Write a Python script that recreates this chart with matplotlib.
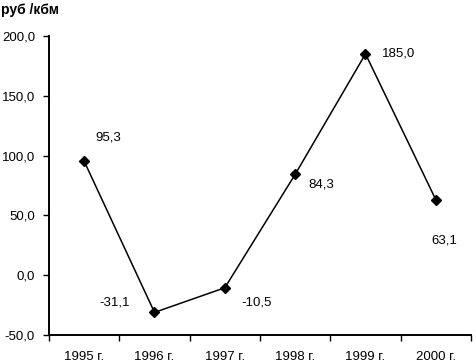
import numpy as np
import matplotlib.pyplot as plt

years = ['1995 г.', '1996 г.', '1997 г.', '1998 г.', '1999 г.', '2000 г.']
values = [95.3, -31.1, -10.5, 84.3, 185.0, 63.1]
# label offsets in pixels relative to each point
label_dx = [24, -40, 32, 26, 33, 8]
label_dy = [24, 10, -15, -10, 0, -41]
y_ticks = [-50, 0, 50, 100, 150, 200]

plt.rcParams['font.family'] = ['Liberation Sans', 'DejaVu Sans']
fs = 9.5

fig = plt.figure(figsize=(4.76, 3.63), dpi=100)
ax = fig.add_axes([49/476, 1-335/363, 422/476, 299/363])

x = np.arange(len(years))
ax.plot(x, values, color='black', linewidth=1.1, marker='D', markersize=5.5,
        markerfacecolor='black', markeredgecolor='black')

for xi, v, dx, dy in zip(x, values, label_dx, label_dy):
    ax.annotate(('%.1f' % v).replace('.', ','), (xi, v), xytext=(dx, dy),
                textcoords='offset pixels', ha='center', va='center',
                fontsize=fs)

ax.set_xlim(-0.5, len(years) - 0.5)
ax.set_ylim(-50, 200)
ax.set_yticks(y_ticks)
ax.set_yticklabels([('%.1f' % t).replace('.', ',') for t in y_ticks], fontsize=fs)
ax.set_xticks(x)
ax.set_xticklabels(years, fontsize=fs)
ax.set_xticks(np.arange(len(years) + 1) - 0.5, minor=True)
ax.tick_params(axis='x', which='major', length=0, pad=11.5)
ax.tick_params(axis='x', which='minor', length=4, direction='out', width=1)
ax.tick_params(axis='y', length=4, direction='out', width=1, pad=6)

for s in ['top', 'right']:
    ax.spines[s].set_visible(False)
for s in ['left', 'bottom']:
    ax.spines[s].set_linewidth(1.4)

fig.text(1/476, 1-10/363, 'руб /кбм', fontsize=10, fontweight='bold',
         ha='left', va='center')

fig.savefig('out.png', dpi=100)
